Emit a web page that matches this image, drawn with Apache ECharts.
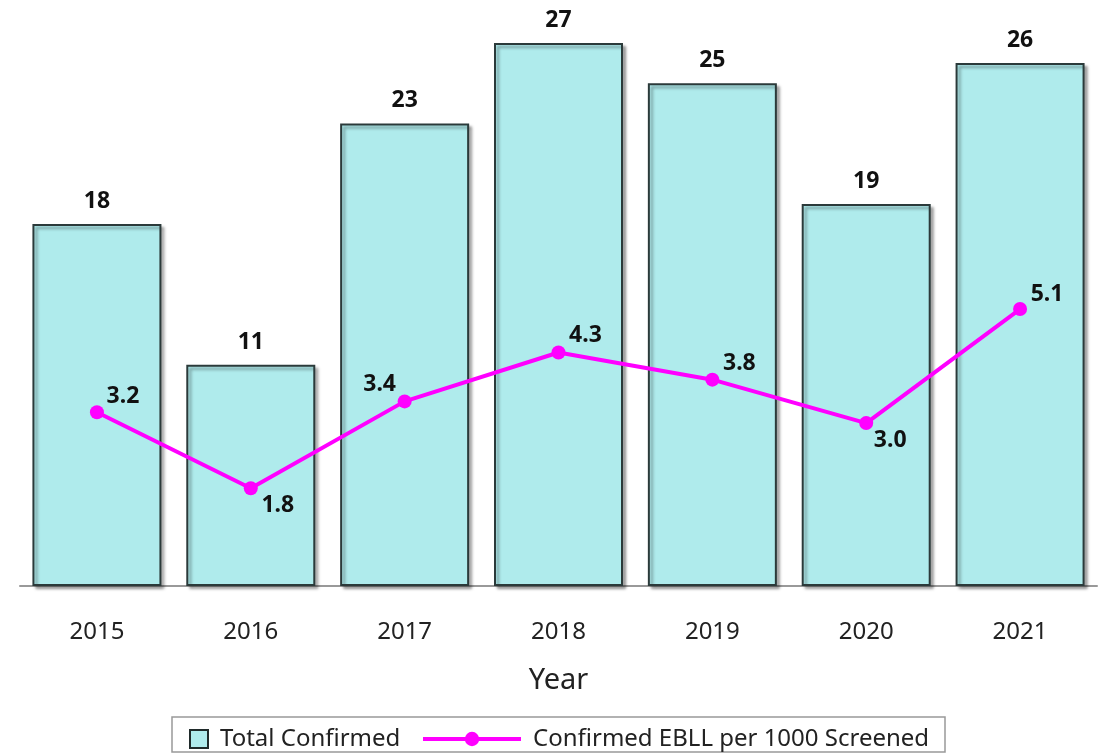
<!DOCTYPE html>
<html>
<head>
<meta charset="utf-8">
<script src="https://cdn.jsdelivr.net/npm/echarts@6/dist/echarts.min.js"></script>
<style>
  html, body { margin: 0; padding: 0; background: #fff; }
  #chart { width: 1112px; height: 755px; }
</style>
</head>
<body>
<div id="chart"></div>
<script>
const years = ["2015", "2016", "2017", "2018", "2019", "2020", "2021"];
const totalConfirmed = [18, 11, 23, 27, 25, 19, 26];
const ebllPer1000 = [3.2, 1.8, 3.4, 4.3, 3.8, 3.0, 5.1];

// where each line label sits relative to its point
const lineLabelOffsets = [[26, -16], [27, 17], [-25, -17], [27, -17], [27, -16], [24, 17], [27, -15]];

const font = "Noto Sans";
const chart = echarts.init(document.getElementById("chart"));

chart.setOption({
  animation: false,
  textStyle: { fontFamily: font },
  grid: { left: 20, right: 15, top: 43, bottom: 169 },
  xAxis: {
    type: "category",
    data: years,
    name: "Year",
    nameLocation: "middle",
    nameGap: 80,
    nameTextStyle: { fontSize: 29, color: "#222", fontFamily: font },
    axisLine: { lineStyle: { color: "#999", width: 2 } },
    axisTick: { show: false },
    axisLabel: { margin: 34, fontSize: 24, color: "#222", fontFamily: font }
  },
  yAxis: [
    { type: "value", min: 0, max: 27, show: false, splitLine: { show: false } },
    { type: "value", min: 0, max: 10, show: false, splitLine: { show: false } }
  ],
  graphic: [{
    type: "rect",
    shape: { x: 172, y: 717, width: 773, height: 35 },
    style: { fill: "#fff", stroke: "#999", lineWidth: 1.5 },
    z: -1
  }],
  legend: [
    {
      data: ["Total Confirmed"],
      left: 184, top: 722,
      itemWidth: 18, itemHeight: 18,
      icon: "rect",
      itemStyle: { borderColor: "#1f2a2a", borderWidth: 2 },
      textStyle: { fontSize: 24, color: "#222", padding: [0, 0, 0, 7] }
    },
    {
      data: ["Confirmed EBLL per 1000 Screened"],
      left: 416, top: 722,
      itemWidth: 98, itemHeight: 18,
      lineStyle: { color: "#FF00FF", width: 4 },
      textStyle: { fontSize: 24, color: "#222", padding: [0, 0, 0, 7] }
    }
  ],
  series: [
    {
      name: "Total Confirmed",
      type: "bar",
      data: totalConfirmed,
      barWidth: 129,
      itemStyle: {
        color: "#AFEBEC",
        borderColor: "#2B3A3A",
        borderWidth: 2,
        shadowColor: "rgba(0,0,0,0.35)",
        shadowBlur: 3,
        shadowOffsetX: 3,
        shadowOffsetY: 3
      },
      label: {
        show: true,
        position: "top",
        distance: 11,
        fontSize: 23,
        fontWeight: "bold",
        color: "#111",
        fontFamily: font
      }
    },
    {
      name: "Confirmed EBLL per 1000 Screened",
      type: "line",
      yAxisIndex: 1,
      data: ebllPer1000.map((v, i) => ({
        value: v,
        label: { offset: lineLabelOffsets[i] }
      })),
      symbol: "circle",
      symbolSize: 14,
      lineStyle: { color: "#FF00FF", width: 4 },
      itemStyle: { color: "#FF00FF" },
      label: {
        show: true,
        position: "inside",
        fontSize: 23,
        fontWeight: "bold",
        color: "#111",
        fontFamily: font,
        formatter: p => p.value.toFixed(1)
      },
      z: 5
    }
  ]
});
</script>
</body>
</html>
